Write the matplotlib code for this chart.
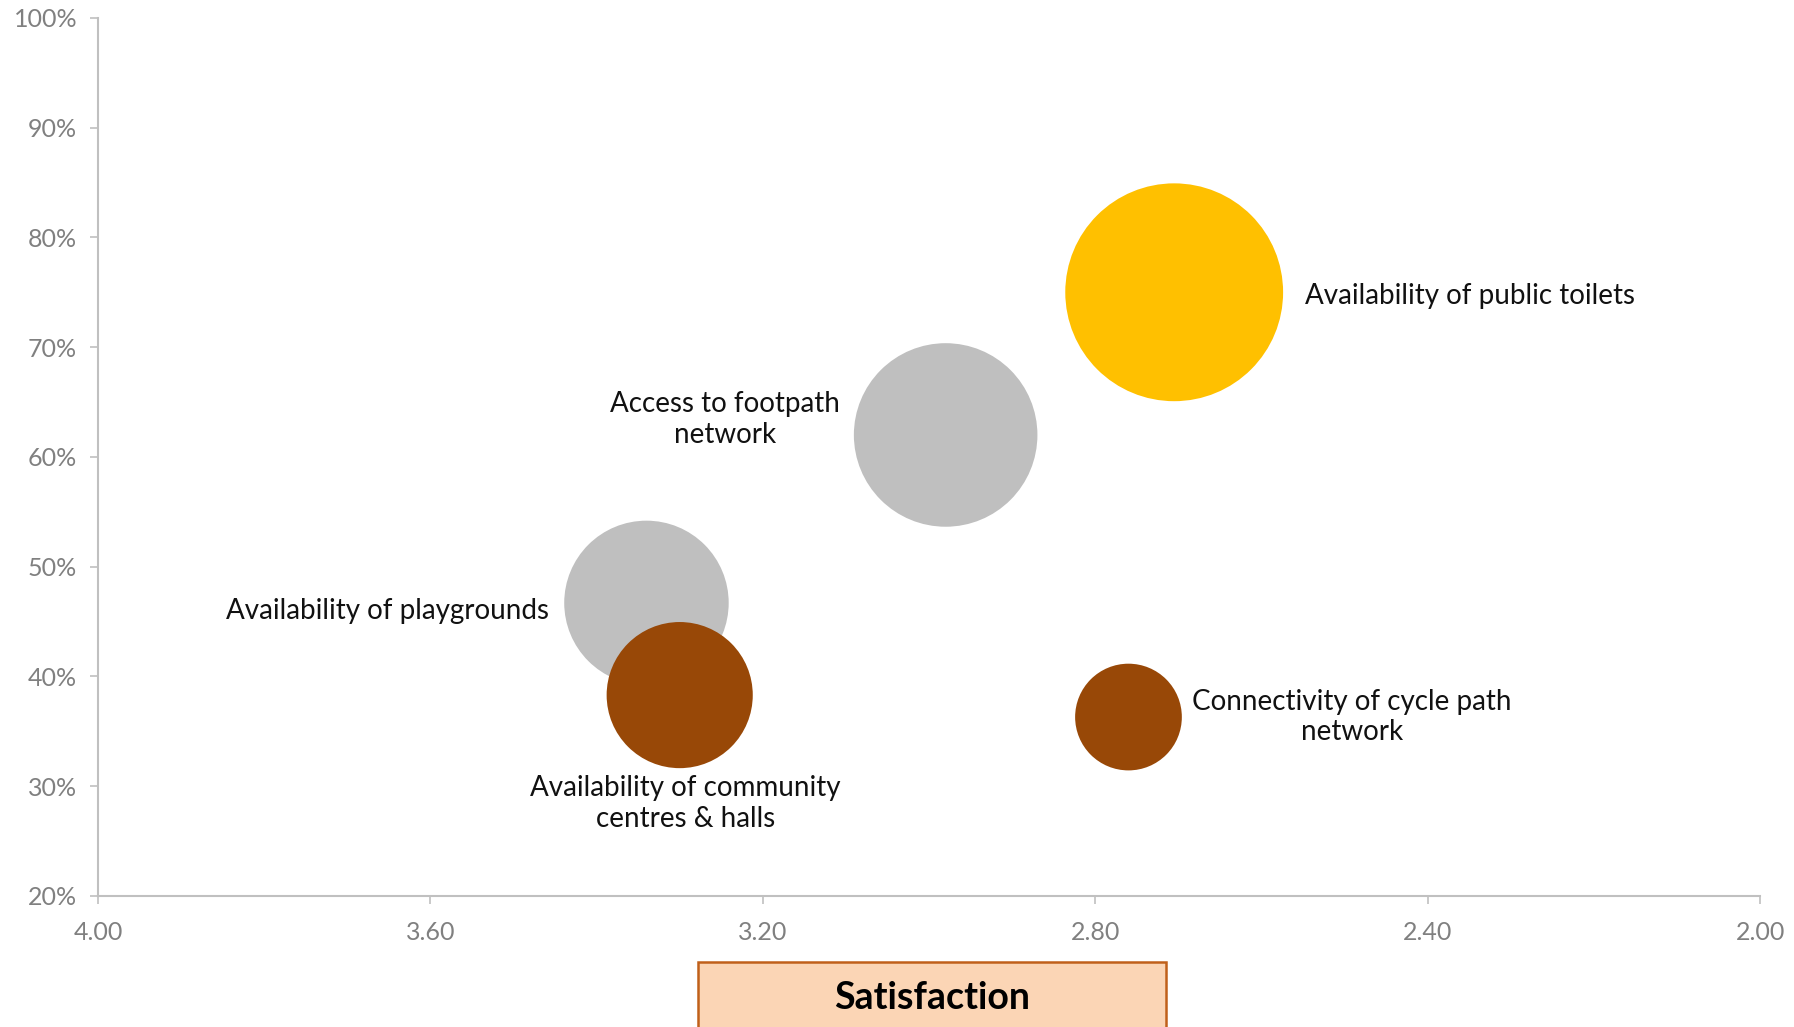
import matplotlib.pyplot as plt
from matplotlib.patches import Rectangle
from matplotlib.ticker import FuncFormatter

plt.rcParams['font.family'] = ['Lato', 'DejaVu Sans']

# bubble data: satisfaction score, share of respondents, bubble size
labels = [
    "Availability of public toilets",
    "Access to footpath\nnetwork",
    "Availability of playgrounds",
    "Availability of community\ncentres & halls",
    "Connectivity of cycle path\nnetwork",
]
satisfaction = [2.705, 2.98, 3.34, 3.30, 2.76]
share = [75, 62, 46.7, 38.3, 36.3]
bubble_size = [100, 71, 57, 45, 24]
colors = ["#FFC000", "#BFBFBF", "#BFBFBF", "#984807", "#984807"]

# label placement: offset (points) from the bubble centre and alignment
label_offsets = [(94, -3), (-76, 11), (-70, -6), (4, -78), (46, 0)]
label_ha = ["left", "right", "right", "center", "left"]

x_ticks = [4.00, 3.60, 3.20, 2.80, 2.40, 2.00]
y_ticks = [20, 30, 40, 50, 60, 70, 80, 90, 100]

fig = plt.figure(figsize=(17.94, 10.27), dpi=100)
ax = fig.add_axes([0.0546, 0.1276, 0.9265, 0.855])

ax.scatter(
    satisfaction,
    share,
    s=[v * 246 for v in bubble_size],
    c=colors,
    linewidths=0,
    zorder=3
)

for i, lab in enumerate(labels):
    ax.annotate(
        lab,
        xy=(satisfaction[i], share[i]),
        xytext=label_offsets[i],
        textcoords="offset points",
        ha=label_ha[i],
        va="center",
        multialignment="center",
        fontsize=20,
        color="#111111",
        linespacing=1.22,
        zorder=4
    )

ax.set_xlim(4.0, 2.0)
ax.set_ylim(20, 100)
ax.set_xticks(x_ticks)
ax.set_yticks(y_ticks)
ax.xaxis.set_major_formatter(FuncFormatter(lambda v, p: f"{v:.2f}"))
ax.yaxis.set_major_formatter(FuncFormatter(lambda v, p: f"{v:.0f}%"))

for side in ["top", "right"]:
    ax.spines[side].set_visible(False)
for side in ["left", "bottom"]:
    ax.spines[side].set_color("#C0C0C0")
    ax.spines[side].set_linewidth(1.5)

ax.tick_params(
    axis="both",
    direction="out",
    length=6,
    width=1.2,
    color="#C0C0C0",
    labelcolor="#808080",
    labelsize=18
)
ax.tick_params(axis="y", pad=9)
ax.tick_params(axis="x", pad=12)

# axis title box under the x axis
fig.patches.append(
    Rectangle(
        (0.389, -0.01), 0.261, 0.0733,
        transform=fig.transFigure,
        facecolor="#FBD5B5",
        edgecolor="#C0601A",
        linewidth=1.8,
        figure=fig
    )
)
fig.text(
    0.5197, 0.028,
    "Satisfaction",
    ha="center",
    va="center",
    fontsize=27,
    fontweight="bold",
    color="#000000"
)

plt.savefig("out.png", dpi=100)
